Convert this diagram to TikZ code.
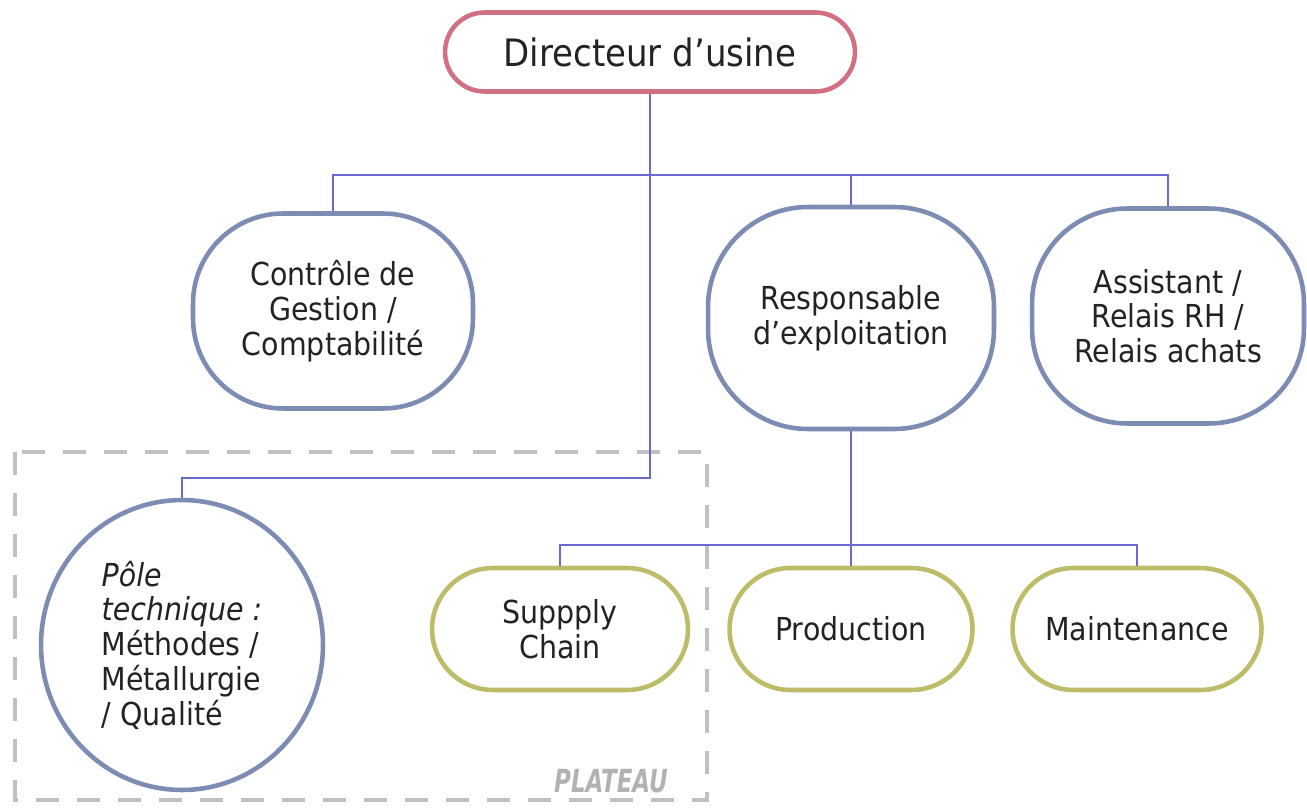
\documentclass[tikz,border=0pt]{standalone}
\usepackage{fontspec}
\setmainfont{DejaVu Sans}[FakeStretch=0.9]
\usetikzlibrary{shapes.geometric}
\definecolor{linkblue}{RGB}{105,105,210}
\definecolor{boxblue}{RGB}{125,140,178}
\definecolor{boxpink}{RGB}{208,112,130}
\definecolor{boxolive}{RGB}{188,188,105}
\definecolor{dashgray}{RGB}{192,192,192}
\definecolor{txt}{RGB}{35,35,35}
\tikzset{
  txtfont/.style={font=\fontsize{18}{19.8}\selectfont, text=txt},
  bluebox/.style={draw=boxblue, line width=2.6pt, fill=white, rectangle, inner sep=0pt, align=center, txtfont},
  olivepill/.style={draw=boxolive, line width=2.6pt, fill=white, rectangle, rounded corners=1.22cm, inner sep=0pt, align=center, txtfont, minimum height=2.44cm},
  link/.style={draw=linkblue, line width=1pt},
  plateaubox/.style={draw=dashgray, line width=2.6pt, dash pattern=on 0.46cm off 0.36cm},
}
\begin{document}
\begin{tikzpicture}[x=0.02cm,y=-0.02cm]
\useasboundingbox (0,0) rectangle (1307,810);

% dashed PLATEAU frame
\draw[plateaubox] (15,452) rectangle (707,800);
\node[font=\fontsize{14.5}{16}\selectfont\bfseries\itshape, text=gray!60] (plat) at (611,781) {\scalebox{1}[1.25]{PLATEAU}};

% nodes
\node[draw=boxpink, line width=2.6pt, fill=white, rectangle, rounded corners=0.79cm, inner sep=0pt,
      minimum width=8.2cm, minimum height=1.58cm, font=\fontsize{21.5}{24}\selectfont, text=txt] (dir) at (650,52) {Directeur d’usine};

\node[bluebox, rounded corners=1.8cm, minimum width=5.6cm, minimum height=3.9cm] (ctrl) at (333,311) {Contrôle de\\Gestion /\\Comptabilité};
\node[bluebox, rounded corners=2cm, minimum width=5.72cm, minimum height=4.44cm] (resp) at (851,318) {Responsable\\d’exploitation};
\node[bluebox, rounded corners=1.9cm, minimum width=5.44cm, minimum height=4.3cm] (assist) at (1168,316) {Assistant /\\Relais RH /\\Relais achats};

\node[draw=boxblue, line width=2.6pt, fill=white, ellipse, inner sep=0pt, minimum width=5.64cm, minimum height=5.8cm,
      align=left, txtfont] (pole) at (182,645)
      {{\itshape Pôle}\\{\itshape technique :}\\Méthodes /\\Métallurgie\\/ Qualité};

\node[olivepill, minimum width=5.12cm] (supply) at (560,629) {Suppply\\Chain};
\node[olivepill, minimum width=4.86cm] (prod) at (851,629) {Production};
\node[olivepill, minimum width=4.98cm] (maint) at (1137,629) {Maintenance};

% connectors
\coordinate (b1) at (650,175);
\coordinate (b2) at (650,478);
\coordinate (b3) at (851,545);
\draw[link] (dir.south) -- (b1);
\draw[link] (ctrl.north) |- (b1);
\draw[link] (resp.north) |- (b1);
\draw[link] (assist.north) |- (b1);
\draw[link] (b1) -- (b2) -| (pole.north);
\draw[link] (resp.south) -- (b3);
\draw[link] (b3) -| (supply.north);
\draw[link] (b3) -- (prod.north);
\draw[link] (b3) -| (maint.north);
\end{tikzpicture}
\end{document}
